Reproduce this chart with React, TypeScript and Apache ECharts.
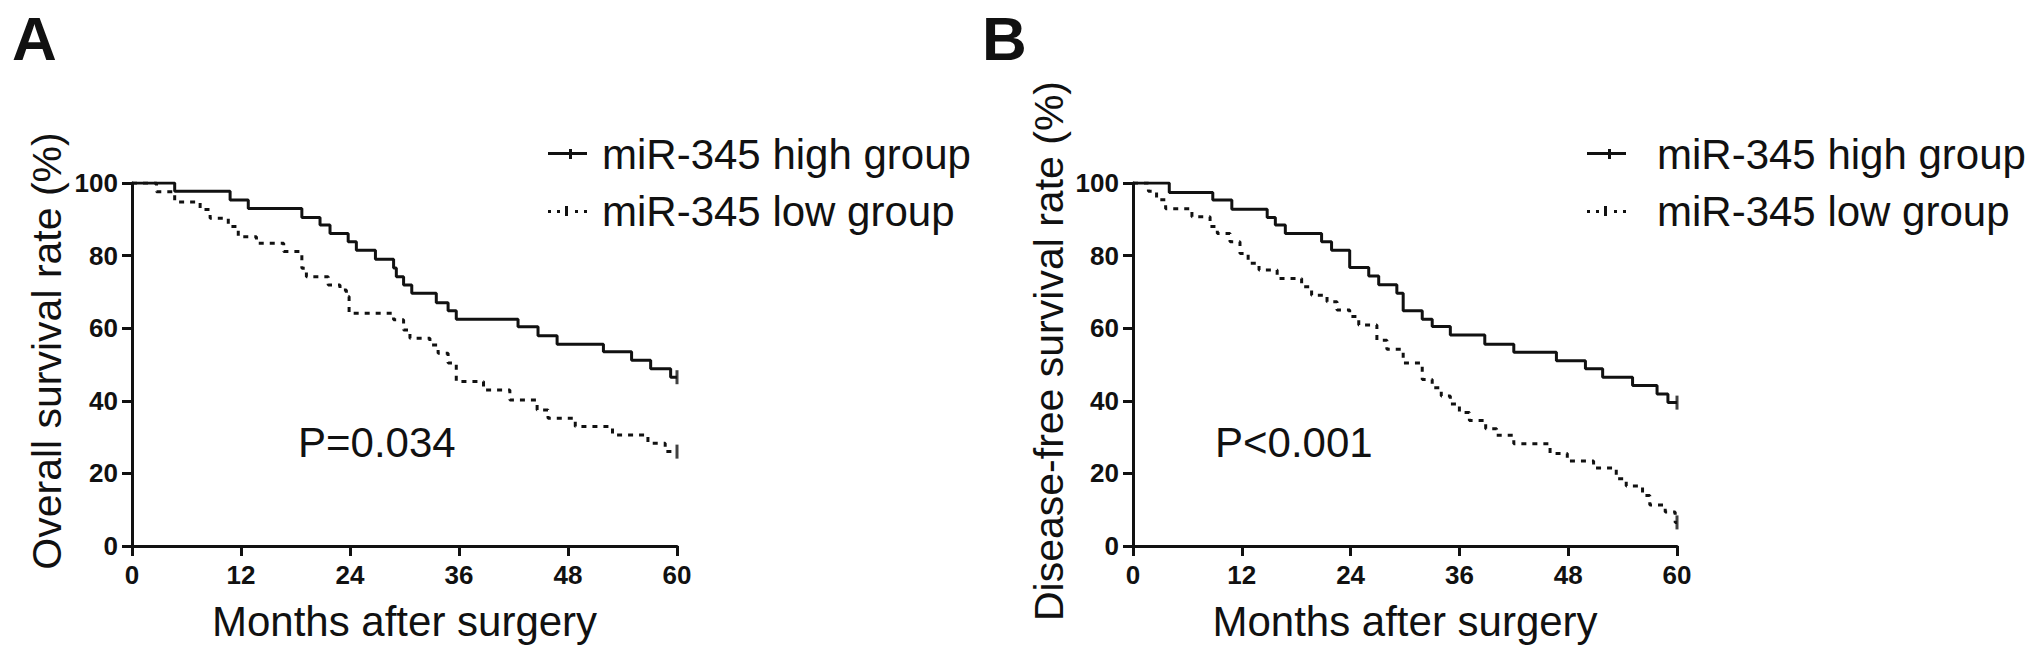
import React, { useEffect, useRef } from 'react';
import * as echarts from 'echarts';

const SERIES_NAMES = ['miR-345 high group', 'miR-345 low group'];
const X_TICKS = [0, 12, 24, 36, 48, 60];
const Y_TICKS = [0, 20, 40, 60, 80, 100];
const X_TITLE = 'Months after surgery';
const Y_TITLES = ['Overall survival rate (%)', 'Disease-free survival rate (%)'];
const P_TEXTS = ['P=0.034', 'P<0.001'];
const PANEL_LABELS = ['A', 'B'];

// Panel A: overall survival, [month, survival %] at each event
const osHigh: [number, number][] = [
  [0, 100], [4.7, 97.7], [10.8, 95.3], [12.8, 93.0], [18.7, 90.5], [20.7, 88.4], [21.8, 86.1],
  [23.8, 83.8], [24.7, 81.5], [26.8, 79.0], [28.8, 76.6], [29.1, 74.2], [29.9, 71.9], [30.8, 69.6],
  [33.5, 67.0], [34.8, 64.8], [35.7, 62.5], [42.5, 60.4], [44.7, 57.9], [46.8, 55.6], [51.9, 53.5],
  [55.0, 51.2], [57.1, 48.8], [59.3, 46.5], [60, 46.5],
];
const osLow: [number, number][] = [
  [0, 100], [2.7, 97.6], [4.7, 94.8], [7.5, 92.7], [8.6, 90.3], [10.6, 88.0], [11.7, 85.2],
  [13.7, 83.4], [16.7, 81.1], [18.7, 76.5], [19.2, 74.2], [21.6, 71.9], [22.9, 70.5], [23.6, 68.7],
  [23.9, 64.1], [28.8, 62.3], [29.9, 59.5], [30.6, 57.2], [32.8, 55.4], [33.7, 53.1], [34.8, 50.4],
  [35.7, 45.3], [38.7, 43.0], [41.6, 40.2], [44.6, 37.5], [45.8, 35.2], [48.8, 32.9], [52.9, 30.6],
  [56.8, 28.3], [58.7, 26.0], [60, 26.0],
];
// Panel B: disease-free survival
const dfsHigh: [number, number][] = [
  [0, 100], [4.0, 97.4], [8.8, 95.3], [10.9, 92.8], [14.8, 90.5], [15.7, 88.4], [16.8, 86.1],
  [20.8, 83.8], [21.9, 81.5], [23.9, 76.7], [26.0, 74.4], [27.1, 72.0], [29.1, 69.6], [29.8, 64.8],
  [31.9, 62.5], [33.0, 60.5], [35.0, 58.1], [38.8, 55.6], [42.0, 53.4], [46.7, 51.0], [49.9, 48.8],
  [51.8, 46.5], [55.1, 44.2], [57.8, 41.9], [59.0, 39.5], [60, 39.5],
];
const dfsLow: [number, number][] = [
  [0, 100], [1.7, 97.7], [2.6, 95.4], [3.6, 92.9], [6.5, 90.7], [8.5, 88.0], [9.3, 86.1],
  [10.7, 83.8], [11.8, 80.6], [12.7, 77.9], [13.9, 76.0], [15.9, 73.7], [18.6, 71.4], [19.7, 69.1],
  [21.4, 67.3], [22.5, 65.0], [23.9, 63.2], [24.9, 60.9], [26.9, 56.7], [28.0, 54.2], [29.8, 50.4],
  [31.9, 45.9], [33.0, 43.6], [34.0, 41.3], [35.0, 39.1], [36.0, 36.8], [37.1, 34.6], [38.9, 32.3],
  [40.1, 30.5], [42.0, 28.2], [46.0, 25.5], [47.9, 23.4], [50.8, 21.5], [53.3, 18.5], [54.4, 16.5],
  [56.2, 13.9], [57.0, 11.3], [58.7, 9.4], [59.8, 6.5], [60, 6.5],
];

const FONT = '"Liberation Sans", Arial, Helvetica, sans-serif';
const INK = '#111';
const SOLID_ICON = 'path://M0,3h39v3h-39z M21,0h3v10h-3z';
const DOTTED_ICON = 'path://M0,4h3v3h-3z M9,4h3v3h-3z M17,0h3v10h-3z M27,4h3v3h-3z M36,4h3v3h-3z';

const grids = [
  { left: 132, top: 183, width: 545, height: 363 },
  { left: 1133, top: 183, width: 544, height: 363 },
];

function axisPair(i: number) {
  const axisLine = { show: true, onZero: false, lineStyle: { color: INK, width: 3 } };
  const axisTick = { show: true, inside: false, length: 10, lineStyle: { color: INK, width: 3 } };
  const axisLabel = { color: INK, fontFamily: FONT, fontWeight: 'bold' as const, fontSize: 26 };
  return {
    x: {
      type: 'value', gridIndex: i, min: X_TICKS[0], max: X_TICKS[X_TICKS.length - 1],
      interval: X_TICKS[1] - X_TICKS[0], axisLine, axisTick, splitLine: { show: false },
      axisLabel: { ...axisLabel, margin: 16 },
      name: X_TITLE, nameLocation: 'middle', nameGap: 54,
      nameTextStyle: { color: INK, fontFamily: FONT, fontSize: 42 },
    },
    y: {
      type: 'value', gridIndex: i, min: Y_TICKS[0], max: Y_TICKS[Y_TICKS.length - 1],
      interval: Y_TICKS[1] - Y_TICKS[0], axisLine, axisTick, splitLine: { show: false },
      axisLabel: { ...axisLabel, margin: 14 },
    },
  };
}

function curve(name: string, data: [number, number][], idx: number, dashed: boolean) {
  return {
    type: 'line', name, xAxisIndex: idx, yAxisIndex: idx, data, step: 'end',
    symbol: 'none', silent: true,
    lineStyle: { color: INK, width: 3, type: dashed ? [5, 6] : 'solid' },
    itemStyle: { color: INK },
  };
}

function censor(data: [number, number][], idx: number) {
  const last = data[data.length - 1];
  return {
    type: 'scatter', name: 'censored', xAxisIndex: idx, yAxisIndex: idx,
    data: [last], symbol: 'rect', symbolSize: [3, 14], itemStyle: { color: INK }, silent: true,
  };
}

function legend(left: number, gapText: number) {
  return {
    orient: 'vertical', left, top: 128, itemWidth: 39, itemHeight: 10, itemGap: 15,
    selectedMode: false,
    data: [
      { name: SERIES_NAMES[0], icon: SOLID_ICON },
      { name: SERIES_NAMES[1], icon: DOTTED_ICON },
    ],
    itemStyle: { color: INK, borderWidth: 0 },
    textStyle: { color: INK, fontFamily: FONT, fontSize: 42, lineHeight: 42, padding: [0, 0, 0, gapText] },
  };
}

export default function App() {
  const ref = useRef<HTMLDivElement>(null);
  useEffect(() => {
    if (!ref.current) return;
    const chart = echarts.init(ref.current, undefined, { renderer: 'svg' });
    const a = axisPair(0);
    const b = axisPair(1);
    const txt = (text: string, x: number, y: number, size: number, extra: any = {}) => ({
      type: 'text', x, y, silent: true, ...extra,
      style: { text, fill: INK, fontFamily: FONT, fontSize: size, align: 'left', verticalAlign: 'middle', ...(extra.style || {}) },
    });
    chart.setOption({
      animation: false,
      backgroundColor: '#fff',
      grid: grids,
      xAxis: [a.x, b.x],
      yAxis: [a.y, b.y],
      legend: [legend(543, 10), legend(1582, 26)],
      series: [
        curve(SERIES_NAMES[0], osHigh, 0, false),
        curve(SERIES_NAMES[1], osLow, 0, true),
        curve(SERIES_NAMES[0], dfsHigh, 1, false),
        curve(SERIES_NAMES[1], dfsLow, 1, true),
        censor(osHigh, 0), censor(osLow, 0), censor(dfsHigh, 1), censor(dfsLow, 1),
      ],
      graphic: [
        txt(PANEL_LABELS[0], 12, 38, 62, { style: { fontWeight: 'bold' } }),
        txt(PANEL_LABELS[1], 982, 38, 62, { style: { fontWeight: 'bold' } }),
        txt(P_TEXTS[0], 298, 442, 42),
        txt(P_TEXTS[1], 1215, 442, 42),
        txt(Y_TITLES[0], 47, 351, 41, { rotation: Math.PI / 2, style: { align: 'center' } }),
        txt(Y_TITLES[1], 1049, 351, 41, { rotation: Math.PI / 2, style: { align: 'center' } }),
      ],
    });
    return () => chart.dispose();
  }, []);
  return <div ref={ref} style={{ position: 'absolute', left: 0, top: 0, width: 2031, height: 654 }} />;
}
